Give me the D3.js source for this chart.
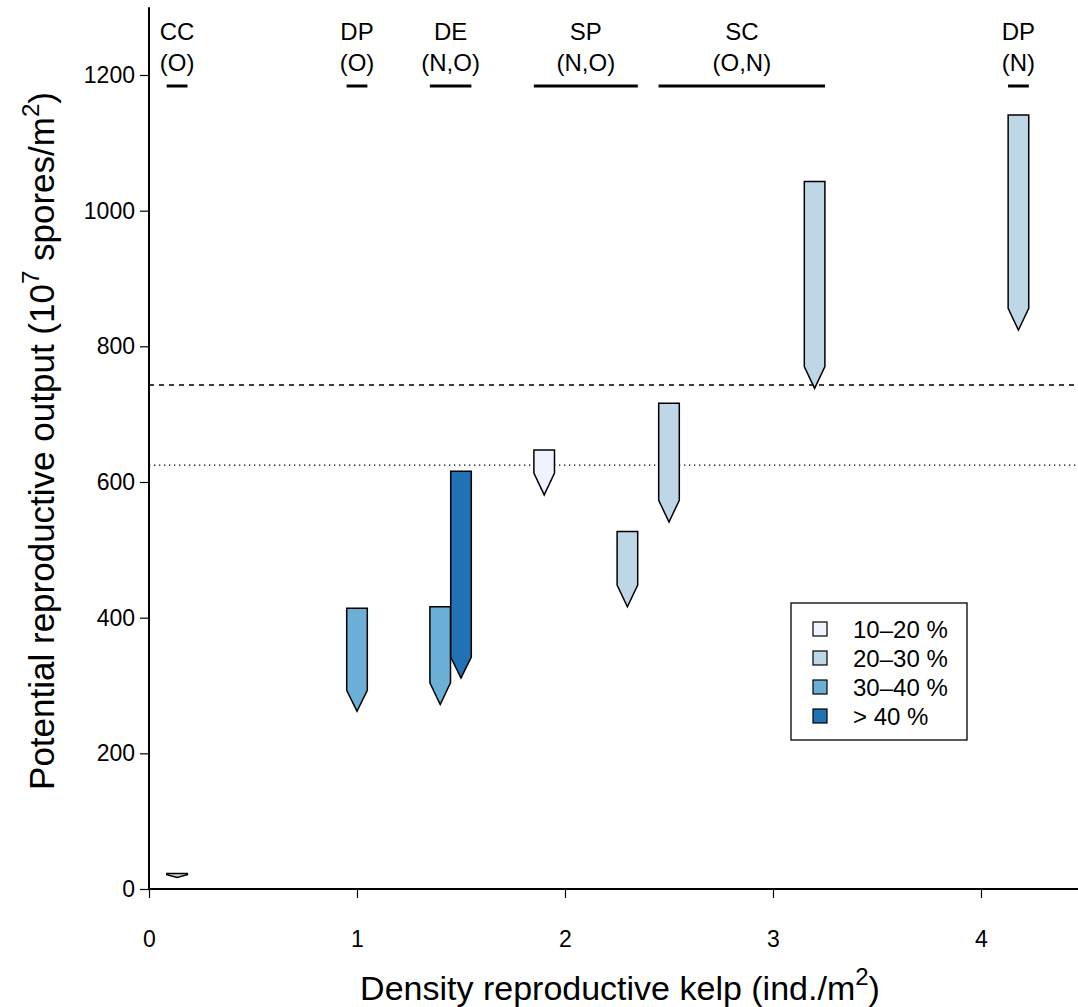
<!DOCTYPE html>
<html>
<head>
<meta charset="utf-8">
<script src="https://cdn.jsdelivr.net/npm/d3@7"></script>
<style>
  html, body { margin: 0; padding: 0; background: #fff; }
  svg { display: block; font-family: "Liberation Sans", Arial, Helvetica, sans-serif; }
</style>
</head>
<body>
<svg id="chart" width="1078" height="1007"></svg>
<script>
// ---- data ----
const density        = [0.135, 1.0, 1.4, 1.5, 1.9, 2.3, 2.5, 3.2, 4.18];
const outputTop      = [23, 414, 416, 616, 647, 527, 716, 1043, 1141];
const outputShoulder = [21, 293, 304, 342, 613, 448, 573, 770, 856];
const outputTip      = [17, 262, 272, 311, 581, 416, 541, 738, 824];
const coverClass     = [1, 2, 2, 3, 0, 1, 1, 1, 1];

const classLabels = ["10\u201320 %", "20\u201330 %", "30\u201340 %", "> 40 %"];
const classColors = ["#eff3ff", "#bdd7e7", "#6baed6", "#2171b5"];

const siteNames = ["CC", "DP", "DE", "SP", "SC", "DP"];
const siteCodes = ["(O)", "(O)", "(N,O)", "(N,O)", "(O,N)", "(N)"];
const siteFrom  = [0.085, 0.95, 1.35, 1.85, 2.45, 4.13];
const siteTo    = [0.185, 1.05, 1.55, 2.35, 3.25, 4.23];

const refDashed = 743;
const refDotted = 625;

const xTicks = [0, 1, 2, 3, 4];
const yTicks = [0, 200, 400, 600, 800, 1000, 1200];

// ---- layout ----
const svg = d3.select("#chart");
const x = d3.scaleLinear().domain([0, 4]).range([149, 981]);
const y = d3.scaleLinear().domain([0, 1200]).range([889, 75]);
const xMax = 4.5, yMax = 1300;
const halfW = 10.3;

// reference lines
svg.append("line")
  .attr("x1", x(0)).attr("x2", x(xMax))
  .attr("y1", y(refDashed)).attr("y2", y(refDashed))
  .attr("stroke", "#000").attr("stroke-width", 1.3)
  .attr("stroke-dasharray", "5,5");
svg.append("line")
  .attr("x1", x(0)).attr("x2", x(xMax))
  .attr("y1", y(refDotted)).attr("y2", y(refDotted))
  .attr("stroke", "#000").attr("stroke-width", 1.3)
  .attr("stroke-dasharray", "1.3,3.7");

// axes
const yAxis = d3.axisLeft(y).tickValues(yTicks).tickSize(9).tickPadding(5).tickFormat(d3.format("d"));
const gy = svg.append("g").attr("transform", `translate(${x(0)},0)`).call(yAxis);
gy.select(".domain").remove();
gy.append("line").attr("x1", 0).attr("x2", 0).attr("y1", y(0)).attr("y2", y(yMax))
  .attr("stroke", "#000").attr("stroke-width", 2);

const xAxis = d3.axisBottom(x).tickValues(xTicks).tickSize(9).tickPadding(33).tickFormat(d3.format("d"));
const gx = svg.append("g").attr("transform", `translate(0,${y(0)})`).call(xAxis);
gx.select(".domain").remove();
gx.append("line").attr("x1", x(0)).attr("x2", x(xMax)).attr("y1", 0).attr("y2", 0)
  .attr("stroke", "#000").attr("stroke-width", 2);

[gx, gy].forEach(g => {
  g.selectAll(".tick line").attr("stroke", "#000").attr("stroke-width", 1.2);
  g.selectAll(".tick text").attr("font-size", 23).attr("fill", "#000")
    .attr("font-family", "'Liberation Sans', Arial, sans-serif");
});

// pencil marks
const marks = density.map((d, i) => ({ d, top: outputTop[i], sh: outputShoulder[i], tip: outputTip[i], c: coverClass[i] }));
svg.append("g").selectAll("path").data(marks).join("path")
  .attr("d", m => {
    const cx = x(m.d);
    return `M${cx - halfW},${y(m.top)} L${cx + halfW},${y(m.top)} L${cx + halfW},${y(m.sh)} L${cx},${y(m.tip)} L${cx - halfW},${y(m.sh)} Z`;
  })
  .attr("fill", m => classColors[m.c])
  .attr("stroke", "#000").attr("stroke-width", 1.5).attr("stroke-linejoin", "miter");

// site labels on top
const sites = siteNames.map((n, i) => ({ n, code: siteCodes[i], a: siteFrom[i], b: siteTo[i] }));
const gs = svg.append("g");
gs.selectAll("line").data(sites).join("line")
  .attr("x1", s => x(s.a)).attr("x2", s => x(s.b))
  .attr("y1", 86).attr("y2", 86)
  .attr("stroke", "#000").attr("stroke-width", 3);
gs.selectAll("text.name").data(sites).join("text").attr("class", "name")
  .attr("x", s => (x(s.a) + x(s.b)) / 2).attr("y", 40)
  .attr("text-anchor", "middle").attr("font-size", 24).text(s => s.n);
gs.selectAll("text.code").data(sites).join("text").attr("class", "code")
  .attr("x", s => (x(s.a) + x(s.b)) / 2).attr("y", 71)
  .attr("text-anchor", "middle").attr("font-size", 24).text(s => s.code);

// legend
const lg = svg.append("g").attr("transform", "translate(791,603)");
lg.append("rect").attr("width", 176).attr("height", 137)
  .attr("fill", "#fff").attr("stroke", "#000").attr("stroke-width", 1.3);
classLabels.forEach((lab, i) => {
  const cy = 26 + i * 29;
  lg.append("rect").attr("x", 22).attr("y", cy - 7).attr("width", 14).attr("height", 14)
    .attr("fill", classColors[i]).attr("stroke", "#000").attr("stroke-width", 1.2);
  lg.append("text").attr("x", 62).attr("y", cy + 8.5).attr("font-size", 24).text(lab);
});

// axis titles
const xt = svg.append("text").attr("x", 620).attr("y", 1000)
  .attr("text-anchor", "middle").attr("font-size", 34);
xt.append("tspan").text("Density reproductive kelp (ind./m");
xt.append("tspan").attr("font-size", 24).attr("dy", -15).text("2");
xt.append("tspan").attr("dy", 15).text(")");

const yt = svg.append("text")
  .attr("transform", "translate(54,441) rotate(-90)")
  .attr("text-anchor", "middle").attr("font-size", 35);
yt.append("tspan").text("Potential reproductive output (10");
yt.append("tspan").attr("font-size", 24).attr("dy", -15).text("7");
yt.append("tspan").attr("dy", 15).text(" spores/m");
yt.append("tspan").attr("font-size", 24).attr("dy", -15).text("2");
yt.append("tspan").attr("dy", 15).text(")");
</script>
</body>
</html>
